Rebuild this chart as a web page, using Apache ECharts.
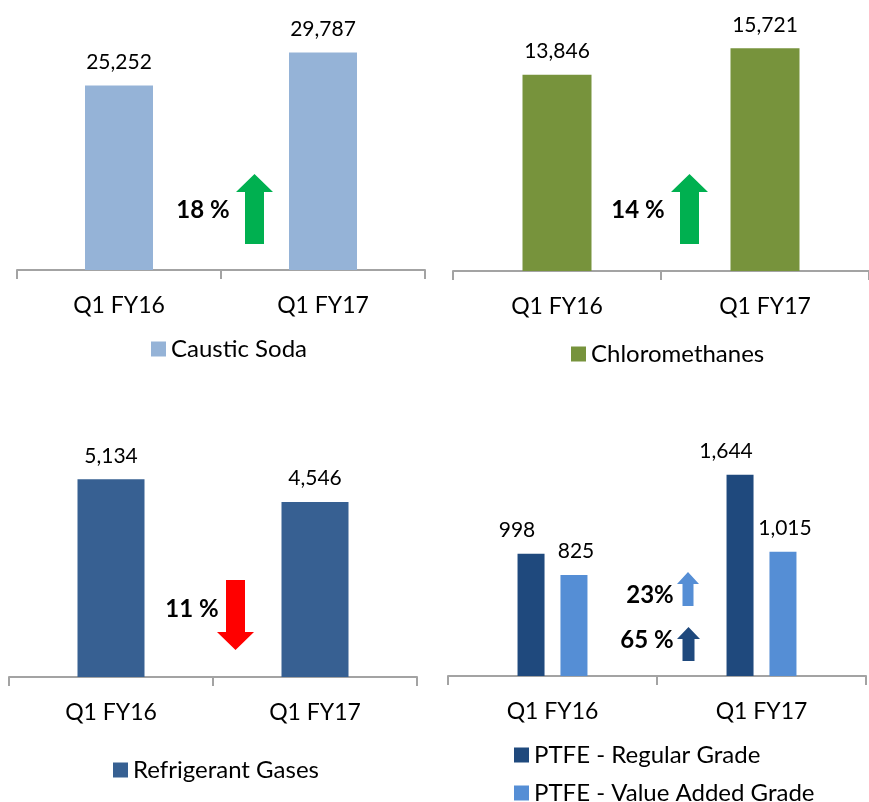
<!DOCTYPE html>
<html>
<head>
<meta charset="utf-8">
<script src="https://cdn.jsdelivr.net/npm/echarts@6/dist/echarts.min.js"></script>
<style>
  html, body { margin: 0; padding: 0; background: #fff; }
  #main { width: 869px; height: 802px; }
</style>
</head>
<body>
<div id="main"></div>
<script>
// 数据
var categories = ['Q1 FY16', 'Q1 FY17'];
var causticSoda = [25252, 29787];
var chloromethanes = [13846, 15721];
var refrigerantGases = [5134, 4546];
var ptfeRegular = [998, 1644];
var ptfeValueAdded = [825, 1015];
var changeLabels = ['18 %', '14 %', '11 %', '23%', '65 %'];

var FONT = 'Lato';
var axisGray = '#a3a3a3';

function fmt(p) {
  return Number(p.value).toLocaleString('en-US');
}

function makeX(idx) {
  return {
    type: 'category',
    gridIndex: idx,
    data: categories,
    axisLine: { lineStyle: { color: axisGray, width: 2 } },
    axisTick: { show: true, length: 9, lineStyle: { color: axisGray, width: 2 } },
    axisLabel: { color: '#000', fontFamily: FONT, fontSize: 23, margin: 24 }
  };
}
function makeY(idx, max) {
  return { type: 'value', gridIndex: idx, min: 0, max: max, show: false, splitLine: { show: false } };
}
function barSeries(name, data, idx, color, width, offsetX) {
  return {
    name: name,
    type: 'bar',
    xAxisIndex: idx,
    yAxisIndex: idx,
    data: data,
    barWidth: width,
    barGap: '59%',
    itemStyle: { color: color },
    label: {
      show: true,
      position: 'top',
      distance: 13,
      offset: [offsetX || 0, 0],
      color: '#000',
      fontFamily: FONT,
      fontSize: 21,
      formatter: fmt
    }
  };
}

// 箭头（注释）
function arrow(cx, yTop, yHeadBase, yBottom, headW, shaftW, color, down) {
  var h = headW / 2, s = shaftW / 2, pts;
  if (!down) {
    pts = [[cx, yTop], [cx + h, yHeadBase], [cx + s, yHeadBase], [cx + s, yBottom],
           [cx - s, yBottom], [cx - s, yHeadBase], [cx - h, yHeadBase]];
  } else {
    pts = [[cx - s, yTop], [cx + s, yTop], [cx + s, yHeadBase], [cx + h, yHeadBase],
           [cx, yBottom], [cx - h, yHeadBase], [cx - s, yHeadBase]];
  }
  return { type: 'polygon', shape: { points: pts }, style: { fill: color } };
}
function pctText(x, y, str) {
  return {
    type: 'text', x: x, y: y,
    style: { text: str, fill: '#000', font: 'bold 24px ' + FONT, align: 'center', verticalAlign: 'middle' }
  };
}

function legendAt(left, top, name) {
  return {
    left: left, top: top,
    data: [name],
    icon: 'rect', itemWidth: 15, itemHeight: 15,
    selectedMode: false,
    textStyle: { color: '#000', fontFamily: FONT, fontSize: 24, lineHeight: 26 }
  };
}

var chart = echarts.init(document.getElementById('main'));
chart.setOption({
  animation: false,
  backgroundColor: '#fff',
  grid: [
    { left: 17, width: 408, top: 10, bottom: 532 },
    { left: 453, width: 418, top: 10, bottom: 531 },
    { left: 9, width: 408, top: 430, bottom: 125 },
    { left: 448, width: 418, top: 430, bottom: 126 }
  ],
  xAxis: [makeX(0), makeX(1), makeX(2), makeX(3)],
  yAxis: [makeY(0, 35600), makeY(1, 18420), makeY(2, 6415), makeY(3, 2010)],
  legend: [
    legendAt(146, 331, 'Caustic Soda'),
    legendAt(566, 336, 'Chloromethanes'),
    legendAt(108, 752, 'Refrigerant Gases'),
    legendAt(509, 737, 'PTFE - Regular Grade'),
    legendAt(509, 775, 'PTFE - Value Added Grade')
  ],
  series: [
    barSeries('Caustic Soda', causticSoda, 0, '#95b3d7', 68),
    barSeries('Chloromethanes', chloromethanes, 1, '#77933c', 69),
    barSeries('Refrigerant Gases', refrigerantGases, 2, '#376092', 67),
    barSeries('PTFE - Regular Grade', ptfeRegular, 3, '#1f497d', 27, -14),
    barSeries('PTFE - Value Added Grade', ptfeValueAdded, 3, '#558ed5', 27, 2)
  ],
  graphic: [
    arrow(254.5, 174, 192, 244, 37, 19, '#00b050', false),
    arrow(689.5, 174, 192, 244, 37, 19, '#00b050', false),
    arrow(235.5, 580, 632, 650, 37, 19, '#ff0000', true),
    arrow(688, 572, 584, 606, 22, 11, '#558ed5', false),
    arrow(688.5, 627, 639, 661, 23, 12, '#1f497d', false),
    pctText(203, 210, changeLabels[0]),
    pctText(638, 210, changeLabels[1]),
    pctText(192, 609, changeLabels[2]),
    pctText(650, 595, changeLabels[3]),
    pctText(647, 640, changeLabels[4])
  ]
});
</script>
</body>
</html>
